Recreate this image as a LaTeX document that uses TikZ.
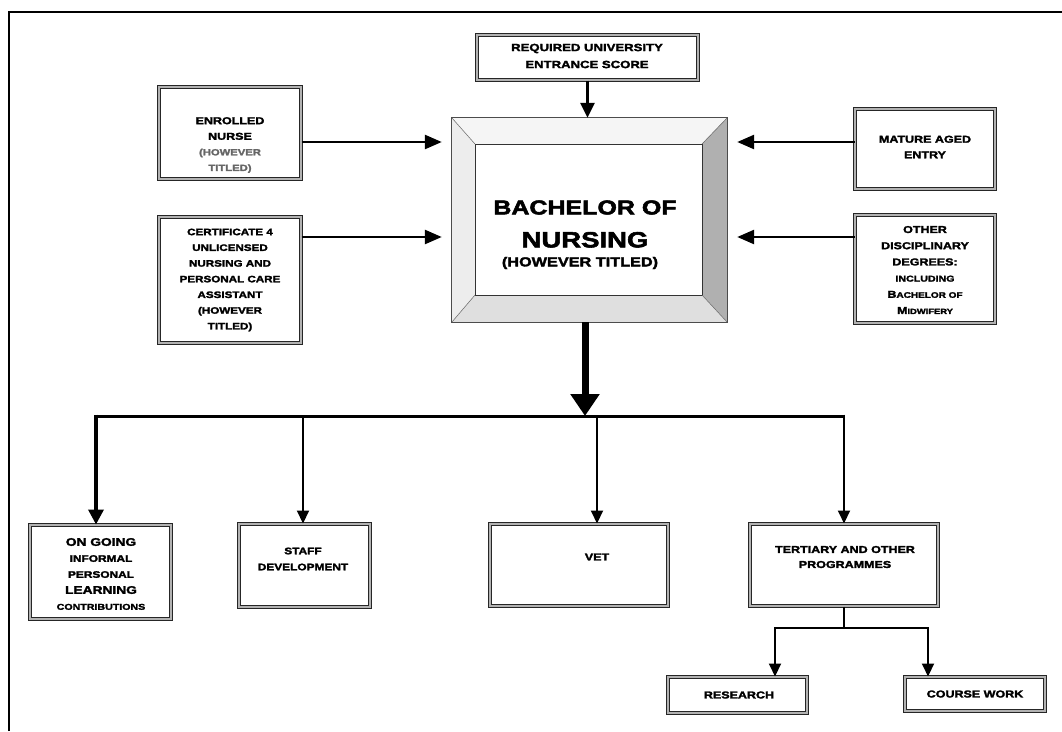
\documentclass[tikz,border=0pt]{standalone}
\usepackage{fontspec}
\newfontfamily\wfont[FakeStretch=1.25,FakeBold=2.5]{Liberation Sans Bold}
\usetikzlibrary{arrows.meta,calc}
\begin{document}
\begin{tikzpicture}[x=1pt,y=-1pt,
  box/.style={draw=black!85, line width=1pt, double=gray!60, double distance=2pt, fill=white, inner sep=0pt},
  txt/.style={font={\wfont\fontsize{10}{15.6}\selectfont}, align=center, text=black, inner sep=0pt},
  inarrow/.style={line width=2.6pt, -{Triangle[length=17pt,width=14pt]}, shorten >=10pt},
  droparrow/.style={line width=2pt, -{Triangle[length=13pt,width=12pt]}},
  bigdrop/.style={line width=3.4pt, -{Triangle[length=15pt,width=15pt]}},
  bigarrow/.style={line width=7pt, -{Triangle[length=22pt,width=28pt]}},
  busline/.style={line width=3pt},
  subline/.style={line width=2pt}
]
\useasboundingbox (0,0) rectangle (1062,731);
% outer frame
\draw[line width=2.2pt] (9,731) -- (9,12) -- (1063,12);

% main bevelled box
\node[minimum width=275pt, minimum height=204pt, inner sep=0pt] (main) at (589.5,220) {};
\coordinate (i1) at (475,144);
\coordinate (i2) at (702,144);
\coordinate (i3) at (702,295);
\coordinate (i4) at (475,295);
\fill[gray!8] (main.north west) -- (main.north east) -- (i2) -- (i1) -- cycle;
\fill[gray!14] (main.north west) -- (i1) -- (i4) -- (main.south west) -- cycle;
\fill[gray!62] (main.north east) -- (main.south east) -- (i3) -- (i2) -- cycle;
\fill[gray!25] (main.south west) -- (main.south east) -- (i3) -- (i4) -- cycle;
\draw[black!70, line width=0.7pt] (main.north west) rectangle (main.south east);
\draw[black!80, line width=0.8pt, fill=white] (i1) rectangle (i3);
\draw[black!60, line width=0.5pt] (main.north west) -- (i1) (main.north east) -- (i2)
  (main.south east) -- (i3) (main.south west) -- (i4);
\node[txt, font={\wfont\fontsize{20}{33}\selectfont}] (maintxt) at (585,224)
  {BACHELOR OF\\{\fontsize{22}{33}\selectfont NURSING}};
\node[txt, font={\wfont\fontsize{13}{15}\selectfont}] (mainsub) at (580,263)
  {(HOWEVER TITLED)};

% top box
\node[box, minimum width=221pt, minimum height=45pt] (req) at (587.5,57.5) {};
\node[txt, font={\wfont\fontsize{10.5}{17}\selectfont}] at (587,56)
  {REQUIRED UNIVERSITY\\ENTRANCE SCORE};

% left boxes
\node[box, minimum width=142pt, minimum height=92pt] (en) at (230,133) {};
\node[txt] at (230,145) {ENROLLED\\NURSE\\{\fontsize{9}{15.6}\selectfont\color{black!60}(HOWEVER}\\{\fontsize{9}{15.6}\selectfont\color{black!60}TITLED)}};
\node[box, minimum width=142pt, minimum height=126pt] (cert) at (230,280) {};
\node[txt, font={\wfont\fontsize{9.3}{15.7}\selectfont}] at (230,280)
  {CERTIFICATE 4\\UNLICENSED\\NURSING AND\\PERSONAL CARE\\ASSISTANT\\(HOWEVER\\TITLED)};

% right boxes
\node[box, minimum width=140pt, minimum height=80pt] (mat) at (925,149) {};
\node[txt] at (925,147) {MATURE AGED\\ENTRY};
\node[box, minimum width=140pt, minimum height=108pt] (oth) at (925,269) {};
\node[txt, font={\wfont\fontsize{10}{16.2}\selectfont}] at (925,270)
  {OTHER\\DISCIPLINARY\\DEGREES:\\{\fontsize{8.5}{16.2}\selectfont INCLUDING}\\B{\fontsize{8}{16.2}\selectfont ACHELOR OF}\\M{\fontsize{7.5}{16.2}\selectfont IDWIFERY}};

% bottom boxes
\node[box, minimum width=141pt, minimum height=94pt] (ong) at (100.5,572) {};
\node[txt, font={\wfont\fontsize{9.5}{16}\selectfont}] at (101,574)
  {{\fontsize{11}{16}\selectfont ON GOING}\\INFORMAL\\PERSONAL\\{\fontsize{11}{16}\selectfont LEARNING}\\{\fontsize{8.5}{16}\selectfont CONTRIBUTIONS}};
\node[box, minimum width=131pt, minimum height=83pt] (stf) at (304.5,565.5) {};
\node[txt, font={\wfont\fontsize{9.5}{16}\selectfont}] at (303,559) {STAFF\\DEVELOPMENT};
\node[box, minimum width=178pt, minimum height=82pt] (vet) at (579,565) {};
\node[txt] at (597,557) {VET};
\node[box, minimum width=188pt, minimum height=82pt] (ter) at (844,565) {};
\node[txt, font={\wfont\fontsize{10}{15}\selectfont}] at (845,557) {TERTIARY AND OTHER\\PROGRAMMES};
\node[box, minimum width=139pt, minimum height=36pt] (res) at (737.5,695) {};
\node[txt] at (739,695) {RESEARCH};
\node[box, minimum width=140pt, minimum height=34pt] (cw) at (975,694) {};
\node[txt] at (975,694) {COURSE WORK};

% input arrows
\draw[line width=3pt, -{Triangle[length=15pt,width=14pt]}] (req.south) -- (req.south |- main.north);
\coordinate (a1) at ([yshift=-9pt]en.east);
\coordinate (a2) at ([yshift=43pt]cert.east);
\coordinate (a3) at ([yshift=7pt]mat.west);
\coordinate (a4) at ([yshift=32pt]oth.west);
\draw[inarrow] (a1) -- (a1 -| main.west);
\draw[inarrow] (a2) -- (a2 -| main.west);
\draw[inarrow] (a3) -- (a3 -| main.east);
\draw[inarrow] (a4) -- (a4 -| main.east);

% output tree
\coordinate (bus) at (585,416);
\coordinate (bL) at (96,416);
\coordinate (bS) at (303,416);
\coordinate (bV) at (597,416);
\coordinate (bR) at (844,416);
\draw[bigarrow] (bus |- main.south) -- (bus);
\draw[busline] (bL) -- (bR);
\draw[bigdrop] ([yshift=1.5pt]bL) -- (bL |- ong.north);
\draw[droparrow] (bS) -- (bS |- stf.north);
\draw[droparrow] (bV) -- (bV |- vet.north);
\draw[droparrow] ([yshift=1.5pt]bR) -- (bR |- ter.north);

\coordinate (sM) at (844,628);
\coordinate (sL) at (775,628);
\coordinate (sR) at (928,628);
\draw[subline] (ter.south) -- (sM);
\draw[subline] (sL) -- (sR);
\draw[droparrow] ([yshift=1pt]sL) -- (sL |- res.north);
\draw[droparrow] ([yshift=1pt]sR) -- (sR |- cw.north);
\end{tikzpicture}
\end{document}
